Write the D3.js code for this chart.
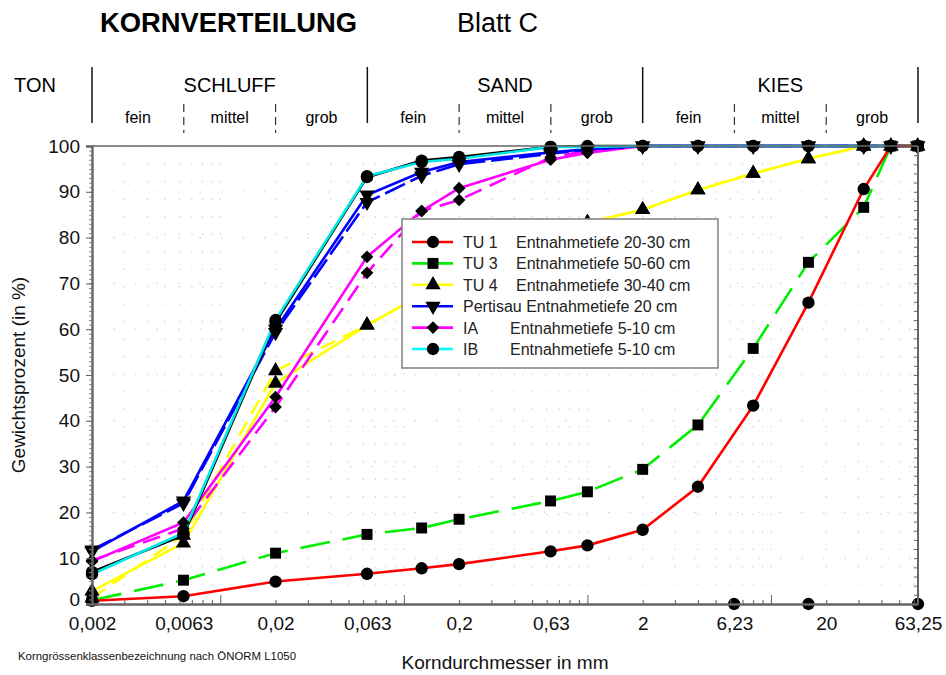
<!DOCTYPE html>
<html><head><meta charset="utf-8">
<script src="https://cdn.jsdelivr.net/npm/d3@7"></script>
<style>
body{margin:0;background:#fff;}
text{font-family:"Liberation Sans",Arial,sans-serif;}
</style></head>
<body><svg id="c" width="946" height="675"></svg>
<script>
// ---------- data ----------
const sizes = [0.002, 0.0063, 0.02, 0.063, 0.125, 0.2, 0.63, 1, 2, 4, 8, 16, 32, 45, 63];
const tu1      = [0.7, 1.7, 4.9, 6.6, 7.8, 8.7, 11.5, 12.8, 16.2, 25.6, 43.3, 65.8, 90.6, 100, 100];
const tu3      = [0.8, 5.2, 11.1, 15.2, 16.6, 18.5, 22.5, 24.5, 29.4, 39.1, 55.8, 74.6, 86.6, 100, 100];
const tu4      = [2.8, 13.3, 48.2, 60.9, 67.5, 72.0, 80.5, 83.3, 86.1, 90.4, 94.0, 97.2, 100, 100, 100];
const tu4b     = [1.3, 15.0, 50.9, 60.9, 67.5, 72.0, 80.5, 83.3, 86.1, 90.4, 94.0, 97.2, 100, 100, 100];
const pertisau = [11.5, 22.5, 60.0, 89.3, 94.3, 96.5, 98.6, 99.3, 100, 100, 100, 100, 100, 100, 100];
const pertisauB= [11.8, 22.0, 59.3, 87.7, 93.5, 96.0, 98.3, 99.2, 100, 100, 100, 100, 100, 100, 100];
const ia       = [9.3, 17.8, 45.2, 75.8, 85.8, 90.8, 97.0, 98.5, 100, 100, 100, 100, 100, 100, 100];
const iaB      = [9.5, 16.5, 43.0, 72.3, 85.8, 88.2, 97.5, 99.0, 100, 100, 100, 100, 100, 100, 100];
const ib       = [6.5, 15.5, 62.0, 93.4, 96.5, 97.2, 99.8, 99.8, 100, 100, 100, 100, 100, 100, 100];
const ibB      = [7.0, 15.0, 61.5, 93.2, 96.8, 97.6, 99.8, 100, 100, 100, 100, 100, 100, 100, 100];
const zeroSizes = [6.3, 16, 63.25];
const zeroVals  = [0, 0, 0];

const legendNames = ["TU 1", "TU 3", "TU 4", "Pertisau", "IA", "IB"];
const legendDepths = ["Entnahmetiefe 20-30 cm", "Entnahmetiefe 50-60 cm", "Entnahmetiefe 30-40 cm",
                      "Entnahmetiefe 20 cm", "Entnahmetiefe 5-10 cm", "Entnahmetiefe 5-10 cm"];

const xTickVals   = [0.002, 0.0063246, 0.02, 0.063246, 0.2, 0.63246, 2, 6.3246, 20, 63.246];
const xTickLabels = ["0,002", "0,0063", "0,02", "0,063", "0,2", "0,63", "2", "6,23", "20", "63,25"];
const yTickVals   = [0, 10, 20, 30, 40, 50, 60, 70, 80, 90, 100];

const mainGroups = ["TON", "SCHLUFF", "SAND", "KIES"];
const subGroups  = ["fein", "mittel", "grob"];
const groupBounds = [0.002, 0.063246, 2, 63.246];

// ---------- setup ----------
const svg = d3.select("#c");
const L = 92, R = 918, T = 146, B = 604;
const x = d3.scaleLog().domain([0.002, 63.246]).range([L, R]);
const y = d3.scaleLinear().domain([0, 100]).range([B, T]);

// grid (faint dotted)
const grid = svg.append("g");
const minorVals = [];
[0.001, 0.01, 0.1, 1, 10].forEach(dec => { for (let k = 1; k <= 9; k++) { const v = dec * k; if (v > 0.002 && v < 63.2) minorVals.push(v); } });
grid.selectAll("line.v").data(minorVals).join("line")
  .attr("x1", d => x(d)).attr("x2", d => x(d)).attr("y1", T).attr("y2", B)
  .attr("stroke", "#d4d4d4").attr("stroke-width", 1.2).attr("stroke-dasharray", "1.5,16");
grid.selectAll("line.h").data(yTickVals.slice(1, 10)).join("line")
  .attr("x1", L).attr("x2", R).attr("y1", d => y(d)).attr("y2", d => y(d))
  .attr("stroke", "#d4d4d4").attr("stroke-width", 1.2).attr("stroke-dasharray", "1.5,20");

// ---------- series ----------
const series = [
  {v: tu4b, c: "#ffff00", dash: "16,9", m: "tri"},
  {v: tu4, c: "#ffff00", dash: null, m: "tri"},
  {v: iaB, c: "#ff00ff", dash: "18,9", m: "dia"},
  {v: ia, c: "#ff00ff", dash: null, m: "dia"},
  {v: pertisauB, c: "#0000ff", dash: "22,6", m: "tdown"},
  {v: pertisau, c: "#0000ff", dash: null, m: "tdown"},
  {v: ibB, c: "#000000", dash: null, m: "circ"},
  {v: ib, c: "#00e8e8", dash: null, m: "circ"},
  {v: tu3, c: "#00ee00", dash: "30,13", m: "sq"},
  {v: tu1, c: "#ff0000", dash: null, m: "circ"}
];
const sym = {
  circ: d3.symbol().type(d3.symbolCircle).size(120),
  sq: d3.symbol().type(d3.symbolSquare).size(120),
  tri: d3.symbol().type(d3.symbolTriangle).size(100),
  tdown: d3.symbol().type(d3.symbolTriangle).size(100),
  dia: d3.symbol().type(d3.symbolSquare).size(80)
};
const rot = m => m === "tdown" ? " rotate(180)" : (m === "dia" ? " rotate(45)" : "");
const line = d3.line().x(d => x(d[0])).y(d => y(d[1]));
const lg = svg.append("g");
series.forEach(s => {
  lg.append("path").datum(sizes.map((d, i) => [d, s.v[i]]))
    .attr("d", line).attr("fill", "none").attr("stroke", s.c).attr("stroke-width", 2.6)
    .attr("stroke-dasharray", s.dash);
});
const mg = svg.append("g");
series.forEach(s => {
  mg.selectAll(null).data(sizes.map((d, i) => [d, s.v[i]])).join("path")
    .attr("d", sym[s.m])
    .attr("transform", d => `translate(${x(d[0])},${y(d[1])})` + rot(s.m))
    .attr("fill", "#000");
});
mg.selectAll(null).data(zeroSizes.map((d, i) => [d, zeroVals[i]])).join("path")
  .attr("d", sym.circ).attr("transform", d => `translate(${x(d[0])},${y(d[1])})`).attr("fill", "#000");

// ---------- axes ----------
const axCol = "#666";
svg.append("line").attr("x1", L).attr("x2", R).attr("y1", T).attr("y2", T).attr("stroke", axCol).attr("stroke-width", 1.6);
svg.append("line").attr("x1", R).attr("x2", R).attr("y1", T).attr("y2", B).attr("stroke", axCol).attr("stroke-width", 2);
const rAx = svg.append("g").attr("transform", `translate(${R},0)`)
  .call(d3.axisLeft(y).tickValues(d3.range(0, 101, 2)).tickSize(4).tickFormat(""));
rAx.select(".domain").remove();
rAx.selectAll("line").attr("stroke", axCol);
const yMinor = svg.append("g").attr("transform", `translate(${L},0)`)
  .call(d3.axisLeft(y).tickValues(d3.range(0, 101, 1)).tickSize(3).tickFormat(""));
yMinor.select(".domain").remove();
yMinor.selectAll("line").attr("stroke", "#888");
const yAx = svg.append("g").attr("transform", `translate(${L},0)`)
  .call(d3.axisLeft(y).tickValues(yTickVals).tickSize(6).tickPadding(6).tickFormat(d3.format("d")));
yAx.select(".domain").attr("stroke", axCol).attr("stroke-width", 2.4);
yAx.selectAll("line").attr("stroke", axCol);
yAx.selectAll("text").attr("font-size", 19).attr("fill", "#111").attr("font-family", "Liberation Sans, Arial, sans-serif");
yAx.selectAll(".tick").filter(d => d === 0).select("text").attr("dy", "0.1em");
const decs = [0.01, 0.1, 1, 10];
const xMinorAx = svg.append("g").attr("transform", `translate(0,${B})`)
  .call(d3.axisTop(x).tickValues(minorVals.filter(v => !decs.some(d => Math.abs(d - v) < 1e-9))).tickSize(4).tickFormat(""));
xMinorAx.select(".domain").remove();
xMinorAx.selectAll("line").attr("stroke", axCol);
const xMajorAx = svg.append("g").attr("transform", `translate(0,${B})`)
  .call(d3.axisTop(x).tickValues(decs).tickSize(9).tickFormat(""));
xMajorAx.select(".domain").remove();
xMajorAx.selectAll("line").attr("stroke", axCol);
const xAx = svg.append("g").attr("transform", `translate(0,${B})`)
  .call(d3.axisBottom(x).tickValues(xTickVals).tickSize(0).tickPadding(13).tickFormat((d, i) => xTickLabels[i]));
xAx.select(".domain").attr("stroke", axCol).attr("stroke-width", 2.4);
xAx.selectAll("text").attr("font-size", 19).attr("fill", "#111").attr("font-family", "Liberation Sans, Arial, sans-serif");

// ---------- legend ----------
const leg = svg.append("g");
leg.append("rect").attr("x", 402).attr("y", 219).attr("width", 316).attr("height", 149)
  .attr("fill", "#fff").attr("stroke", "#888").attr("stroke-width", 1.6);
const legSeries = [series[9], series[8], series[1], series[5], series[3], series[7]];
legSeries.forEach((s, i) => {
  const ry = 242 + i * 21.4;
  leg.append("line").attr("x1", 412).attr("x2", 453).attr("y1", ry).attr("y2", ry)
    .attr("stroke", s.c === "#00e8e8" ? "#00ffff" : s.c).attr("stroke-width", 2.6);
  leg.append("path").attr("d", sym[s.m]).attr("fill", "#000")
    .attr("transform", `translate(433,${ry})` + rot(s.m));
  if (i === 3) {
    leg.append("text").attr("x", 463).attr("y", ry + 6).attr("font-size", 16).attr("fill", "#222")
      .text(legendNames[i] + " " + legendDepths[i]);
  } else {
    leg.append("text").attr("x", 463).attr("y", ry + 6).attr("font-size", 16).attr("fill", "#222").text(legendNames[i]);
    leg.append("text").attr("x", i < 3 ? 516 : 510).attr("y", ry + 6).attr("font-size", 16).attr("fill", "#222").text(legendDepths[i]);
  }
});

// ---------- header ----------
svg.append("text").attr("x", 100).attr("y", 32).attr("font-size", 27).attr("font-weight", "bold").attr("fill", "#000")
  .attr("textLength", 257).attr("lengthAdjust", "spacingAndGlyphs").text("KORNVERTEILUNG");
svg.append("text").attr("x", 457).attr("y", 32).attr("font-size", 27).attr("fill", "#000").text("Blatt C");

const hdr = svg.append("g");
groupBounds.forEach(b => {
  hdr.append("line").attr("x1", x(b)).attr("x2", x(b)).attr("y1", 67).attr("y2", 123).attr("stroke", "#111").attr("stroke-width", 1.5);
});
hdr.append("text").attr("x", 35).attr("y", 92).attr("text-anchor", "middle").attr("font-size", 20).text(mainGroups[0]);
for (let g = 0; g < 3; g++) {
  const a = groupBounds[g], b = groupBounds[g + 1];
  hdr.append("text").attr("x", (x(a) + x(b)) / 2).attr("y", 92).attr("text-anchor", "middle").attr("font-size", 20).text(mainGroups[g + 1]);
  const la = Math.log10(a), lb = Math.log10(b);
  for (let k = 0; k < 3; k++) {
    const s0 = Math.pow(10, la + (lb - la) * k / 3), s1 = Math.pow(10, la + (lb - la) * (k + 1) / 3);
    hdr.append("text").attr("x", (x(s0) + x(s1)) / 2).attr("y", 123).attr("text-anchor", "middle").attr("font-size", 16).text(subGroups[k]);
    if (k > 0) {
      hdr.append("line").attr("x1", x(s0)).attr("x2", x(s0)).attr("y1", 104).attr("y2", 133)
        .attr("stroke", "#333").attr("stroke-width", 1.2).attr("stroke-dasharray", "8,5");
    }
  }
}

// ---------- titles ----------
svg.append("text").attr("x", 505).attr("y", 669).attr("text-anchor", "middle").attr("font-size", 19).attr("fill", "#111").text("Korndurchmesser in mm");
svg.append("text").attr("transform", "translate(25,375) rotate(-90)").attr("text-anchor", "middle").attr("font-size", 19).attr("fill", "#111").text("Gewichtsprozent (in %)");
svg.append("text").attr("x", 18).attr("y", 660).attr("font-size", 11).attr("fill", "#111")
  .attr("textLength", 278).attr("lengthAdjust", "spacingAndGlyphs").text("Korngrössenklassenbezeichnung nach  ÖNORM L1050");
</script></body></html>
